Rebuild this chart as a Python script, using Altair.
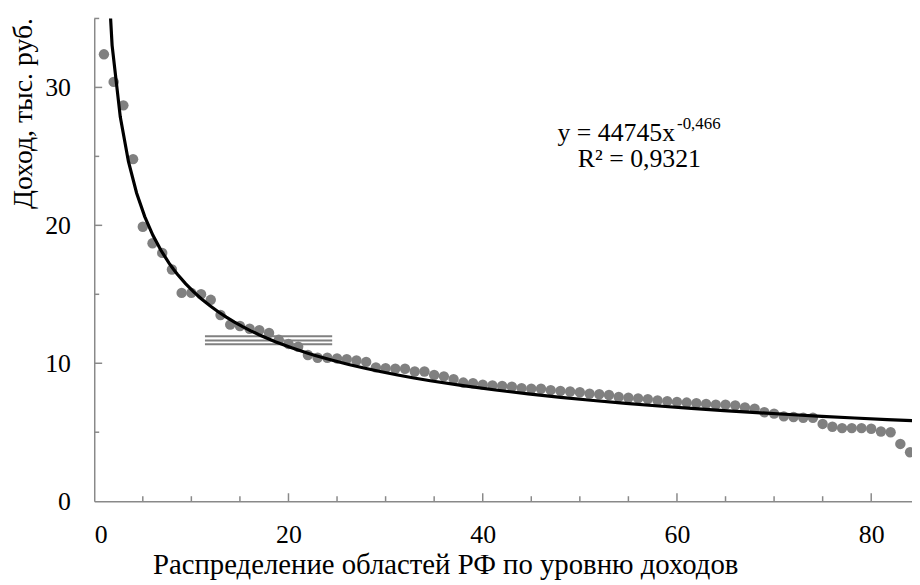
import altair as alt
import pandas as pd

# ---- data ----
region_rank = list(range(1, 85))
income_thousand_rub = [
    32.4, 30.4, 28.7, 24.8, 19.9, 18.7, 18.0, 16.8, 15.1, 15.1,
    15.0, 14.6, 13.5, 12.8, 12.7, 12.5, 12.4, 12.2, 11.7, 11.4,
    11.2, 10.6, 10.4, 10.4, 10.35, 10.3, 10.2, 10.1, 9.7, 9.65,
    9.6, 9.6, 9.4, 9.4, 9.15, 9.05, 8.85, 8.6, 8.55, 8.45,
    8.4, 8.35, 8.3, 8.2, 8.15, 8.15, 8.05, 8.0, 7.95, 7.9,
    7.8, 7.75, 7.7, 7.55, 7.5, 7.45, 7.4, 7.3, 7.25, 7.2,
    7.15, 7.1, 7.05, 7.0, 7.0, 6.95, 6.8, 6.7, 6.45, 6.35,
    6.15, 6.1, 6.05, 6.05, 5.6, 5.4, 5.3, 5.3, 5.3, 5.25,
    5.05, 5.0, 4.15, 3.55,
]

# stray triple line segment seen in the reference
band_y = [11.96, 11.65, 11.37]
band_x_start = [11.4, 11.4, 11.4]
band_x_end = [24.5, 24.5, 24.5]

x_label_values = [0, 20, 40, 60, 80]
y_label_values = [0, 10, 20, 30]
x_major_ticks = [20, 40, 60, 80]
x_minor_ticks = [5, 10, 15, 25, 30, 35, 45, 50, 55, 65, 70, 75]
y_major_ticks = [10, 20, 30]
y_minor_ticks = [5, 15, 25, 35]

eq_main = "y = 44745x"
eq_power = "-0,466"
r2_text = "R² = 0,9321"

x_title = "Распределение областей РФ по уровню доходов"
y_title = "Доход, тыс. руб."

FONT = "Liberation Serif"
W, H = 825, 487
X_DOMAIN = [0, 84.2]
Y_DOMAIN = [0, 35]

df = pd.DataFrame({"x": region_rank, "y": income_thousand_rub})
band_df = pd.DataFrame({"y": band_y, "x": band_x_start, "x2": band_x_end})

xscale = alt.Scale(domain=X_DOMAIN, nice=False, zero=False)
yscale = alt.Scale(domain=Y_DOMAIN, nice=False)

x_axis = alt.Axis(values=x_label_values, title=x_title, labelPadding=21,
                  labelFont=FONT, labelFontSize=26, titleFont=FONT, titleFontSize=29,
                  titleX=354, titleY=73, titleBaseline="alphabetic")
y_axis = alt.Axis(values=y_label_values, title=y_title, labelPadding=24,
                  labelFont=FONT, labelFontSize=26, titleFont=FONT, titleFontSize=28,
                  titleAngle=270, titleAlign="right", titleBaseline="alphabetic",
                  titleX=-63, titleY=-1)

points = alt.Chart(df).mark_circle(size=110, color="#808080", opacity=1).encode(
    x=alt.X("x:Q", scale=xscale, axis=x_axis),
    y=alt.Y("y:Q", scale=yscale, axis=y_axis),
)

trend = alt.Chart(df).transform_regression(
    "x", "y", method="pow", extent=[1, 85]
).mark_line(color="black", strokeWidth=3.2, clip=True).encode(
    x=alt.X("x:Q", scale=xscale),
    y=alt.Y("y:Q", scale=yscale),
)

band = alt.Chart(band_df).mark_rule(color="#808080", strokeWidth=2).encode(
    x=alt.X("x:Q", scale=xscale), x2="x2:Q",
    y=alt.Y("y:Q", scale=yscale),
)

def xticks(vals, length):
    return alt.Chart(pd.DataFrame({"v": vals})).mark_rule(
        color="#898989", strokeWidth=1.5).encode(
        x=alt.X("v:Q", scale=xscale), y=alt.value(H), y2=alt.value(H - length))

def yticks(vals, length):
    return alt.Chart(pd.DataFrame({"v": vals})).mark_rule(
        color="#898989", strokeWidth=1.5).encode(
        y=alt.Y("v:Q", scale=yscale), x=alt.value(0), x2=alt.value(length))

def label(text, x, y, size, align="left"):
    return alt.Chart(pd.DataFrame({"t": [text]})).mark_text(
        font=FONT, fontSize=size, color="black", align=align,
        baseline="alphabetic").encode(
        text="t:N", x=alt.value(x), y=alt.value(y))

chart = alt.layer(
    xticks(x_major_ticks, 8), xticks(x_minor_ticks, 5),
    yticks(y_major_ticks, 8), yticks(y_minor_ticks, 5),
    band, points, trend,
    label(eq_main, 586, 124, 26, "right"),
    label(eq_power, 588, 112, 17),
    label(r2_text, 550, 150, 26, "center"),
).properties(
    width=W, height=H,
    padding={"left": 87, "top": 8, "right": 0, "bottom": 80},
    autosize=alt.AutoSizeParams(type="none"),
).configure(font=FONT).configure_view(stroke=None).configure_axis(
    grid=False, ticks=False,
    domainColor="#898989", domainWidth=1.5,
    labelFont=FONT, labelFontSize=26, labelColor="black",
    titleFont=FONT, titleFontSize=28, titleFontWeight="normal", titleColor="black",
)

chart.save("out.html", embed_options={"renderer": "svg", "actions": False})
